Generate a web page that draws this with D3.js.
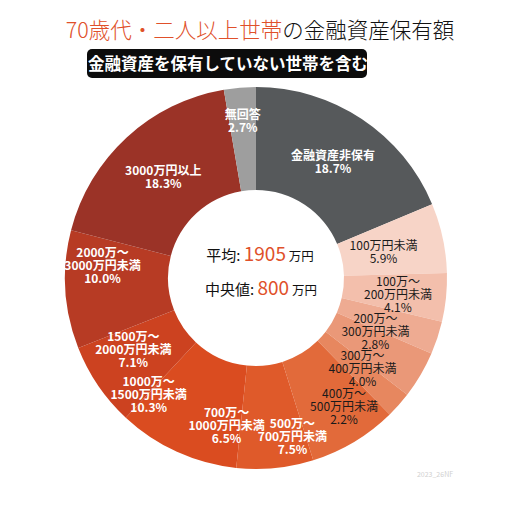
<!DOCTYPE html>
<html>
<head>
<meta charset="utf-8">
<script src="https://cdn.jsdelivr.net/npm/d3@7"></script>
<style>
  body { margin: 0; background: #fff; }
  svg { display: block; font-family: "Noto Sans CJK JP", "Noto Sans", sans-serif; }
</style>
</head>
<body>
<div id="chart"></div>
<script>
// slice data, clockwise from 12 o'clock
const categories = [
  "金融資産非保有", "100万円未満", "100万～\n200万円未満", "200万～\n300万円未満",
  "300万～\n400万円未満", "400万～\n500万円未満", "500万～\n700万円未満",
  "700万～\n1000万円未満", "1000万～\n1500万円未満", "1500万～\n2000万円未満",
  "2000万～\n3000万円未満", "3000万円以上", "無回答"
];
const shares = [18.7, 5.9, 4.1, 2.8, 4.0, 2.2, 7.5, 6.5, 10.3, 7.1, 10.0, 18.3, 2.7];
const sliceColors = [
  "#56595b", "#f7d4c7", "#f3bfac", "#eeab92", "#ea9878", "#e7875f", "#e26a3a",
  "#df5a2a", "#da4c20", "#cc4220", "#b73b24", "#9b3327", "#9e9e9e"
];
const meanValue = "1905";
const medianValue = "800";

class Donut {
  constructor(_config) {
    this.config = {
      parent: _config.parent,
      width: 512,
      height: 512,
      cx: 256,
      cy: 278,
      outer: 191,
      inner: 88,
      accent: "#e0502a",
      // label radius and small angle nudge (deg) per slice, so crowded labels spread out
      labelR: [139, 130, 143, 131, 140, 156, 163, 151, 159, 142, 154, 137, 157],
      labelTurn: [0, 1, 1, 6, 10, 14, 18, 17, 18, 4, 8, 0, 0],
    };
    this.initVis();
  }

  initVis() {
    let vis = this;

    vis.svg = d3.select(vis.config.parent)
      .append("svg")
      .attr("width", vis.config.width)
      .attr("height", vis.config.height);

    // title
    const title = vis.svg.append("text")
      .attr("x", 260)
      .attr("y", 38)
      .attr("text-anchor", "middle")
      .attr("font-size", 21.5)
      .attr("font-weight", 300);
    title.append("tspan").attr("fill", vis.config.accent).text("70歳代・二人以上世帯");
    title.append("tspan").attr("fill", "#111").text("の金融資産保有額");

    // subtitle badge
    vis.svg.append("rect")
      .attr("x", 87).attr("y", 49)
      .attr("width", 280).attr("height", 29)
      .attr("rx", 5)
      .attr("fill", "#0c0c0c");
    vis.svg.append("text")
      .attr("x", 228).attr("y", 69.5)
      .attr("text-anchor", "middle")
      .attr("font-size", 16.5)
      .attr("font-weight", 700)
      .attr("fill", "#fff")
      .text("金融資産を保有していない世帯を含む");

    vis.chart = vis.svg.append("g")
      .attr("transform", `translate(${vis.config.cx},${vis.config.cy})`);

    vis.pie = d3.pie().sort(null).value(d => d.v);
    vis.arc = d3.arc().innerRadius(vis.config.inner).outerRadius(vis.config.outer);

    this.updateVis();
  }

  updateVis() {
    const vis = this;
    const data = categories.map((c, i) => ({ c, v: shares[i], color: sliceColors[i], i }));
    const arcs = vis.pie(data);

    vis.chart.selectAll("path.slice")
      .data(arcs)
      .join("path")
      .attr("class", "slice")
      .attr("d", vis.arc)
      .attr("fill", d => d.data.color);

    const labelG = vis.chart.selectAll("g.lbl")
      .data(arcs)
      .join("g")
      .attr("class", "lbl")
      .attr("transform", d => {
        const r = vis.config.labelR[d.index];
        const turn = vis.config.labelTurn[d.index] * Math.PI / 180;
        const a = (d.startAngle + d.endAngle) / 2 + turn;
        return `translate(${r * Math.sin(a)},${-r * Math.cos(a)})`;
      });

    labelG.each(function (d) {
      const lines = d.data.c.split("\n").concat([d3.format(".1f")(d.data.v) + "%"]);
      const dark = d.index >= 1 && d.index <= 5;
      const t = d3.select(this).append("text")
        .attr("text-anchor", "middle")
        .attr("font-size", 12)
        .attr("font-weight", dark ? 400 : 700)
        .attr("fill", dark ? "#1a1a1a" : "#fff");
      const h = 13;
      lines.forEach((ln, k) => {
        t.append("tspan")
          .attr("x", 0)
          .attr("y", (k - (lines.length - 1) / 2) * h + 4)
          .text(ln);
      });
    });

    // centre text
    const center = vis.chart.append("g");
    const l1 = center.append("text").attr("text-anchor", "middle").attr("x", 4).attr("y", -17);
    l1.append("tspan").attr("font-size", 15).attr("fill", "#111").text("平均: ");
    l1.append("tspan").attr("font-size", 19).attr("fill", vis.config.accent).text(meanValue);
    l1.append("tspan").attr("font-size", 12.5).attr("fill", "#111").text(" 万円");

    const l2 = center.append("text").attr("text-anchor", "middle").attr("x", 5).attr("y", 17);
    l2.append("tspan").attr("font-size", 15).attr("fill", "#111").text("中央値: ");
    l2.append("tspan").attr("font-size", 19).attr("fill", vis.config.accent).text(medianValue);
    l2.append("tspan").attr("font-size", 12.5).attr("fill", "#111").text(" 万円");

    // faint watermark
    vis.svg.append("text")
      .attr("x", 435).attr("y", 477)
      .attr("text-anchor", "middle")
      .attr("font-size", 7)
      .attr("fill", "#d0d0d0")
      .text("2023_26NF");
  }
}

new Donut({ parent: "#chart" });
</script>
</body>
</html>
